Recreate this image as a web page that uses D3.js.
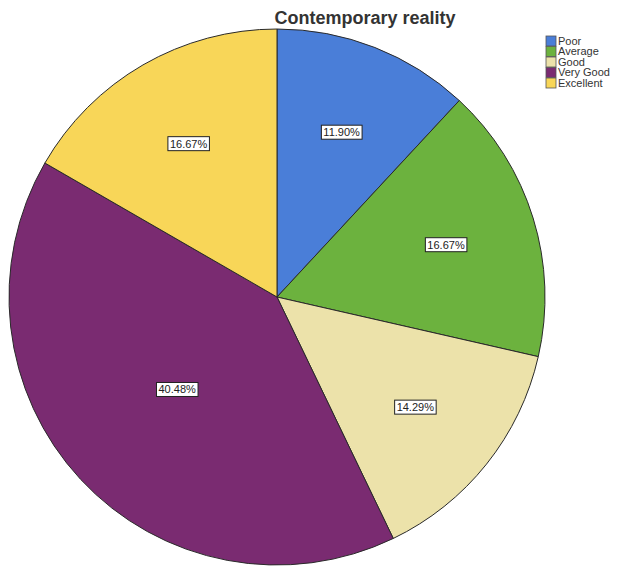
<!DOCTYPE html>
<html>
<head>
<meta charset="utf-8">
<script src="https://cdn.jsdelivr.net/npm/d3@7"></script>
<style>
  body { margin: 0; background: #fff; }
  text { font-family: "Liberation Sans", Arial, sans-serif; }
</style>
</head>
<body>
<div id="chart"></div>
<script>
var categories = ["Poor", "Average", "Good", "Very Good", "Excellent"];
var counts = [5, 7, 6, 17, 7];
var percentLabels = ["11.90%", "16.67%", "14.29%", "40.48%", "16.67%"];
var colors = ["#4a7ed8", "#6cb23e", "#ece2aa", "#7a2b71", "#f8d658"];

var width = 622, height = 566;
var cx = 277, cy = 297, radius = 268;

var svg = d3.select("#chart").append("svg")
    .attr("width", width)
    .attr("height", height);

// title
svg.append("text")
    .attr("x", 365)
    .attr("y", 24)
    .attr("text-anchor", "middle")
    .style("font-size", "18px")
    .style("font-weight", "bold")
    .style("fill", "#333")
    .text("Contemporary reality");

var color = d3.scaleOrdinal().domain(categories).range(colors);

var pie = d3.pie().sort(null).value(function(d) { return d.count; });
var data = categories.map(function(c, i) {
  return { name: c, count: counts[i], label: percentLabels[i] };
});

var arc = d3.arc().innerRadius(0).outerRadius(radius);
var labelArc = d3.arc().innerRadius(0).outerRadius(radius * 1.32);

var g = svg.append("g").attr("transform", "translate(" + cx + "," + cy + ")");

var slices = g.selectAll(".slice")
    .data(pie(data))
    .enter().append("g")
    .attr("class", "slice");

slices.append("path")
    .attr("d", arc)
    .attr("fill", function(d) { return color(d.data.name); })
    .attr("stroke", "#2a2a2a")
    .attr("stroke-width", 1);

// percentage labels in white boxes
slices.each(function(d) {
  var c = labelArc.centroid(d);
  // the big slice gets its label pulled in a bit, like the original
  if (d.endAngle - d.startAngle > Math.PI / 2) { c = [c[0] * 0.77, c[1] * 0.77]; }
  var grp = d3.select(this).append("g")
      .attr("transform", "translate(" + c[0] + "," + c[1] + ")");
  var t = grp.append("text")
      .attr("text-anchor", "middle")
      .attr("dy", "0.35em")
      .style("font-size", "11px")
      .style("fill", "#222")
      .text(d.data.label);
  var bb = t.node().getBBox();
  grp.insert("rect", "text")
      .attr("x", bb.x - 2)
      .attr("y", bb.y - 1)
      .attr("width", bb.width + 4)
      .attr("height", bb.height + 2)
      .attr("fill", "#fff")
      .attr("stroke", "#222")
      .attr("stroke-width", 1);
});

// legend
var legend = svg.append("g").attr("transform", "translate(546,36)");
var rows = legend.selectAll(".row")
    .data(categories)
    .enter().append("g")
    .attr("transform", function(d, i) { return "translate(0," + (i * 10.5) + ")"; });

rows.append("rect")
    .attr("width", 10)
    .attr("height", 10)
    .attr("fill", function(d) { return color(d); })
    .attr("stroke", "#555")
    .attr("stroke-width", 0.8);

rows.append("text")
    .attr("x", 12)
    .attr("y", 5)
    .attr("dy", "0.35em")
    .style("font-size", "11px")
    .style("fill", "#333")
    .text(function(d) { return d; });
</script>
</body>
</html>
